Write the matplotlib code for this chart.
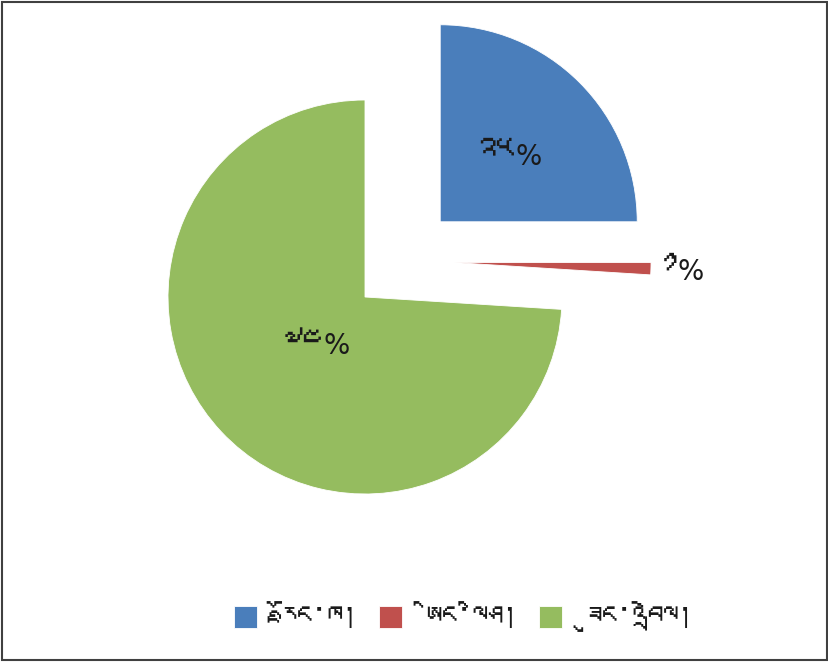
import numpy as np
import matplotlib
matplotlib.use("Agg")
import matplotlib.pyplot as plt
from matplotlib import font_manager
from matplotlib.ft2font import FT2Font
from matplotlib.patches import Rectangle
from matplotlib.offsetbox import TextArea, HPacker, AnnotationBbox

# ---- data ----
categories = ["རྫོང་ཁ།", "ཨིང་ལིཤ།", "ཟུང་འབྲེལ།"]
values = [25, 1, 74]
value_labels = ["༢༥", "༡", "༧༤"]
pct_sign = "%"
colors = ["#4A7EBB", "#C0504D", "#95BC5F"]

# ---- find a font with Tibetan glyphs, if any ----
def find_tibetan_font():
    tib = [ord(c) for c in "ཀཁཟ༢༥"]
    for fe in font_manager.fontManager.ttflist:
        try:
            cm = FT2Font(fe.fname).get_charmap()
        except Exception:
            continue
        if all(c in cm for c in tib):
            return fe.name
    return None

tib_font = find_tibetan_font()
families = ["DejaVu Sans"] + ([tib_font] if tib_font and tib_font != "DejaVu Sans" else [])
plt.rcParams["font.family"] = families

W, H = 829, 662
fig = plt.figure(figsize=(W / 100, H / 100), dpi=100)
ax = fig.add_axes([0, 0, 1, 1])

wedges, _ = ax.pie(values, colors=colors, startangle=90, counterclock=False,
                   explode=[0.54, 0.45, 0.0], radius=1.0,
                   wedgeprops=dict(edgecolor="white", linewidth=0.6))
# Excel-like offset of the thin slice
wedges[1].set_center((0.452, 0.175))

# pixel mapping: pie centre at (365, 297) px, radius 197 px
cx, cy, R = 365, 297, 197
ax.set_aspect("auto")
ax.set_xlim((0 - cx) / R, (W - cx) / R)
ax.set_ylim((cy - H) / R, (cy - 0) / R)
ax.axis("off")

# labels
dist = [0.49, 1.03, 0.34]
align = [(0.5, 0.5), (0.0, 0.5), (0.5, 0.5)]
for i, w in enumerate(wedges):
    mid = np.deg2rad((w.theta1 + w.theta2) / 2)
    p = np.array(w.center) + dist[i] * np.array([np.cos(mid), np.sin(mid)])
    box = HPacker(children=[
        TextArea(value_labels[i], textprops=dict(fontsize=28, color="#1a1a1a")),
        TextArea(pct_sign, textprops=dict(fontsize=20, color="#1a1a1a")),
    ], align="baseline", pad=0, sep=1)
    ab = AnnotationBbox(box, p, frameon=False, box_alignment=align[i], pad=0)
    ax.add_artist(ab)

leg = fig.legend(wedges, categories, loc="center", bbox_to_anchor=(0.559, 0.066),
                 ncol=3, frameon=False, fontsize=22, handlelength=0.75,
                 handleheight=0.75, columnspacing=0.7, handletextpad=0.8)
for t in leg.get_texts():
    t.set_color("#1a1a1a")

fig.patches.append(Rectangle((0.002, 0.003), 0.996, 0.994, transform=fig.transFigure,
                             fill=False, edgecolor="#404040", linewidth=1.5))

fig.savefig("out.png", dpi=100)
